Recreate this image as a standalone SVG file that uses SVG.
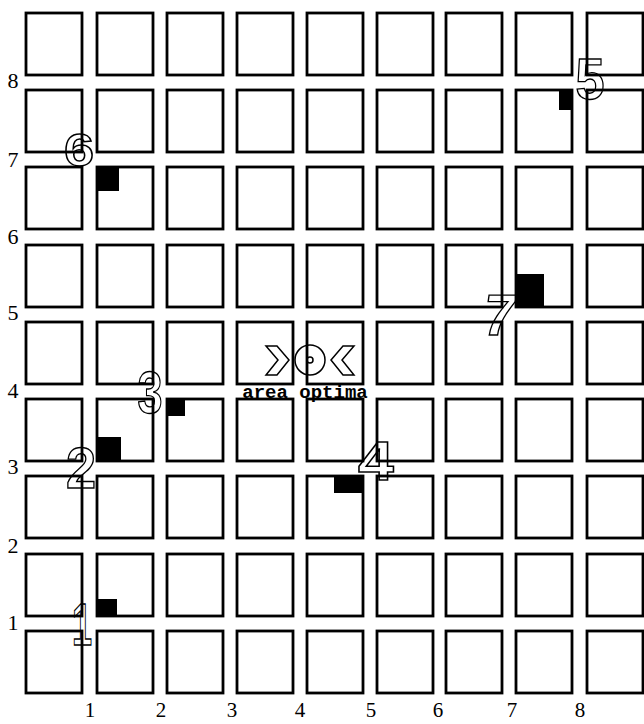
<svg xmlns="http://www.w3.org/2000/svg" xmlns:xlink="http://www.w3.org/1999/xlink" width="644" height="724" viewBox="0 0 644 724">
<style>
.blk{fill:#fff;stroke:#000;stroke-width:2.8}
.spot{fill:#000}
.num{font-family:"Liberation Sans","DejaVu Sans",sans-serif;font-weight:bold;fill:none;stroke:#000;stroke-width:1.4;text-anchor:middle}
.ax{font-family:"Liberation Serif","DejaVu Serif",serif;font-size:22px;fill:#000;text-anchor:middle}
.axb{font-size:21px}
.opt{font-family:"Liberation Mono","DejaVu Sans Mono",monospace;font-size:19px;font-weight:bold;fill:#000;text-anchor:middle}
.sym{fill:none;stroke:#000;stroke-width:1.5}
</style>
<defs>
<rect id="b" width="56" height="62" class="blk"/>
</defs>
<rect width="644" height="724" fill="#fff"/>
<g id="blocks">
<g id="row-a"><use xlink:href="#b" x="26" y="13"/><use xlink:href="#b" x="97" y="13"/><use xlink:href="#b" x="167" y="13"/><use xlink:href="#b" x="237" y="13"/><use xlink:href="#b" x="307" y="13"/><use xlink:href="#b" x="377" y="13"/><use xlink:href="#b" x="446" y="13"/><use xlink:href="#b" x="516" y="13"/><use xlink:href="#b" x="587" y="13"/></g>
<g id="row-b"><use xlink:href="#b" x="26" y="90"/><use xlink:href="#b" x="97" y="90"/><use xlink:href="#b" x="167" y="90"/><use xlink:href="#b" x="237" y="90"/><use xlink:href="#b" x="307" y="90"/><use xlink:href="#b" x="377" y="90"/><use xlink:href="#b" x="446" y="90"/><use xlink:href="#b" x="516" y="90"/><use xlink:href="#b" x="587" y="90"/></g>
<g id="row-c"><use xlink:href="#b" x="26" y="167"/><use xlink:href="#b" x="97" y="167"/><use xlink:href="#b" x="167" y="167"/><use xlink:href="#b" x="237" y="167"/><use xlink:href="#b" x="307" y="167"/><use xlink:href="#b" x="377" y="167"/><use xlink:href="#b" x="446" y="167"/><use xlink:href="#b" x="516" y="167"/><use xlink:href="#b" x="587" y="167"/></g>
<g id="row-d"><use xlink:href="#b" x="26" y="245"/><use xlink:href="#b" x="97" y="245"/><use xlink:href="#b" x="167" y="245"/><use xlink:href="#b" x="237" y="245"/><use xlink:href="#b" x="307" y="245"/><use xlink:href="#b" x="377" y="245"/><use xlink:href="#b" x="446" y="245"/><use xlink:href="#b" x="516" y="245"/><use xlink:href="#b" x="587" y="245"/></g>
<g id="row-e"><use xlink:href="#b" x="26" y="322"/><use xlink:href="#b" x="97" y="322"/><use xlink:href="#b" x="167" y="322"/><use xlink:href="#b" x="237" y="322"/><use xlink:href="#b" x="307" y="322"/><use xlink:href="#b" x="377" y="322"/><use xlink:href="#b" x="446" y="322"/><use xlink:href="#b" x="516" y="322"/><use xlink:href="#b" x="587" y="322"/></g>
<g id="row-f"><use xlink:href="#b" x="26" y="399"/><use xlink:href="#b" x="97" y="399"/><use xlink:href="#b" x="167" y="399"/><use xlink:href="#b" x="237" y="399"/><use xlink:href="#b" x="307" y="399"/><use xlink:href="#b" x="377" y="399"/><use xlink:href="#b" x="446" y="399"/><use xlink:href="#b" x="516" y="399"/><use xlink:href="#b" x="587" y="399"/></g>
<g id="row-g"><use xlink:href="#b" x="26" y="476"/><use xlink:href="#b" x="97" y="476"/><use xlink:href="#b" x="167" y="476"/><use xlink:href="#b" x="237" y="476"/><use xlink:href="#b" x="307" y="476"/><use xlink:href="#b" x="377" y="476"/><use xlink:href="#b" x="446" y="476"/><use xlink:href="#b" x="516" y="476"/><use xlink:href="#b" x="587" y="476"/></g>
<g id="row-h"><use xlink:href="#b" x="26" y="554"/><use xlink:href="#b" x="97" y="554"/><use xlink:href="#b" x="167" y="554"/><use xlink:href="#b" x="237" y="554"/><use xlink:href="#b" x="307" y="554"/><use xlink:href="#b" x="377" y="554"/><use xlink:href="#b" x="446" y="554"/><use xlink:href="#b" x="516" y="554"/><use xlink:href="#b" x="587" y="554"/></g>
<g id="row-i"><use xlink:href="#b" x="26" y="631"/><use xlink:href="#b" x="97" y="631"/><use xlink:href="#b" x="167" y="631"/><use xlink:href="#b" x="237" y="631"/><use xlink:href="#b" x="307" y="631"/><use xlink:href="#b" x="377" y="631"/><use xlink:href="#b" x="446" y="631"/><use xlink:href="#b" x="516" y="631"/><use xlink:href="#b" x="587" y="631"/></g>
</g>
<g id="connectors"/>
<g id="site-1"><rect class="spot" x="97" y="599" width="20" height="18"/><text class="num" font-size="60" transform="translate(82 645) scale(0.6 1)">1</text></g>
<g id="site-2"><rect class="spot" x="97" y="437" width="24" height="25"/><text class="num" font-size="57" transform="translate(81 488) scale(0.95 1)">2</text></g>
<g id="site-3"><rect class="spot" x="167" y="398" width="18" height="18"/><text class="num" font-size="60" transform="translate(150 413) scale(0.75 1)">3</text></g>
<g id="site-4"><rect class="spot" x="334" y="476" width="29" height="17"/><text class="num" font-size="56" transform="translate(376 480) scale(1.15 1)">4</text></g>
<g id="site-5"><rect class="spot" x="559" y="89" width="14" height="21"/><text class="num" font-size="58" transform="translate(590 99) scale(0.9 1)">5</text></g>
<g id="site-6"><rect class="spot" x="97" y="167" width="22" height="24"/><text class="num" font-size="47" transform="translate(79 166) scale(1.15 1)">6</text></g>
<g id="site-7"><rect class="spot" x="517" y="274" width="27" height="34"/><text class="num" font-size="58" transform="translate(497 335) scale(1.0 1) skewX(-8)">7</text></g>
<g id="optimal-area">
<polygon class="sym" points="266,346 277,346 289,360 277,375 266,375 278,360"/>
<circle class="sym" cx="310" cy="360" r="15"/>
<circle class="sym" cx="310" cy="360" r="3"/>
<polygon class="sym" points="354,346 343,346 331,360 343,375 354,375 342,360"/>
<text class="opt" x="305" y="398">area optima</text>
</g>
<g id="axis-y">
<text class="ax" x="13" y="88">8</text>
<text class="ax" x="13" y="167">7</text>
<text class="ax" x="13" y="244">6</text>
<text class="ax" x="13" y="320">5</text>
<text class="ax" x="13" y="398">4</text>
<text class="ax" x="13" y="474">3</text>
<text class="ax" x="13" y="553">2</text>
<text class="ax" x="13" y="630">1</text>
</g>
<g id="axis-x">
<text class="ax axb" x="90" y="717">1</text>
<text class="ax axb" x="161" y="717">2</text>
<text class="ax axb" x="232" y="717">3</text>
<text class="ax axb" x="300" y="717">4</text>
<text class="ax axb" x="371" y="717">5</text>
<text class="ax axb" x="438" y="717">6</text>
<text class="ax axb" x="512" y="717">7</text>
<text class="ax axb" x="580" y="717">8</text>
</g>
</svg>
